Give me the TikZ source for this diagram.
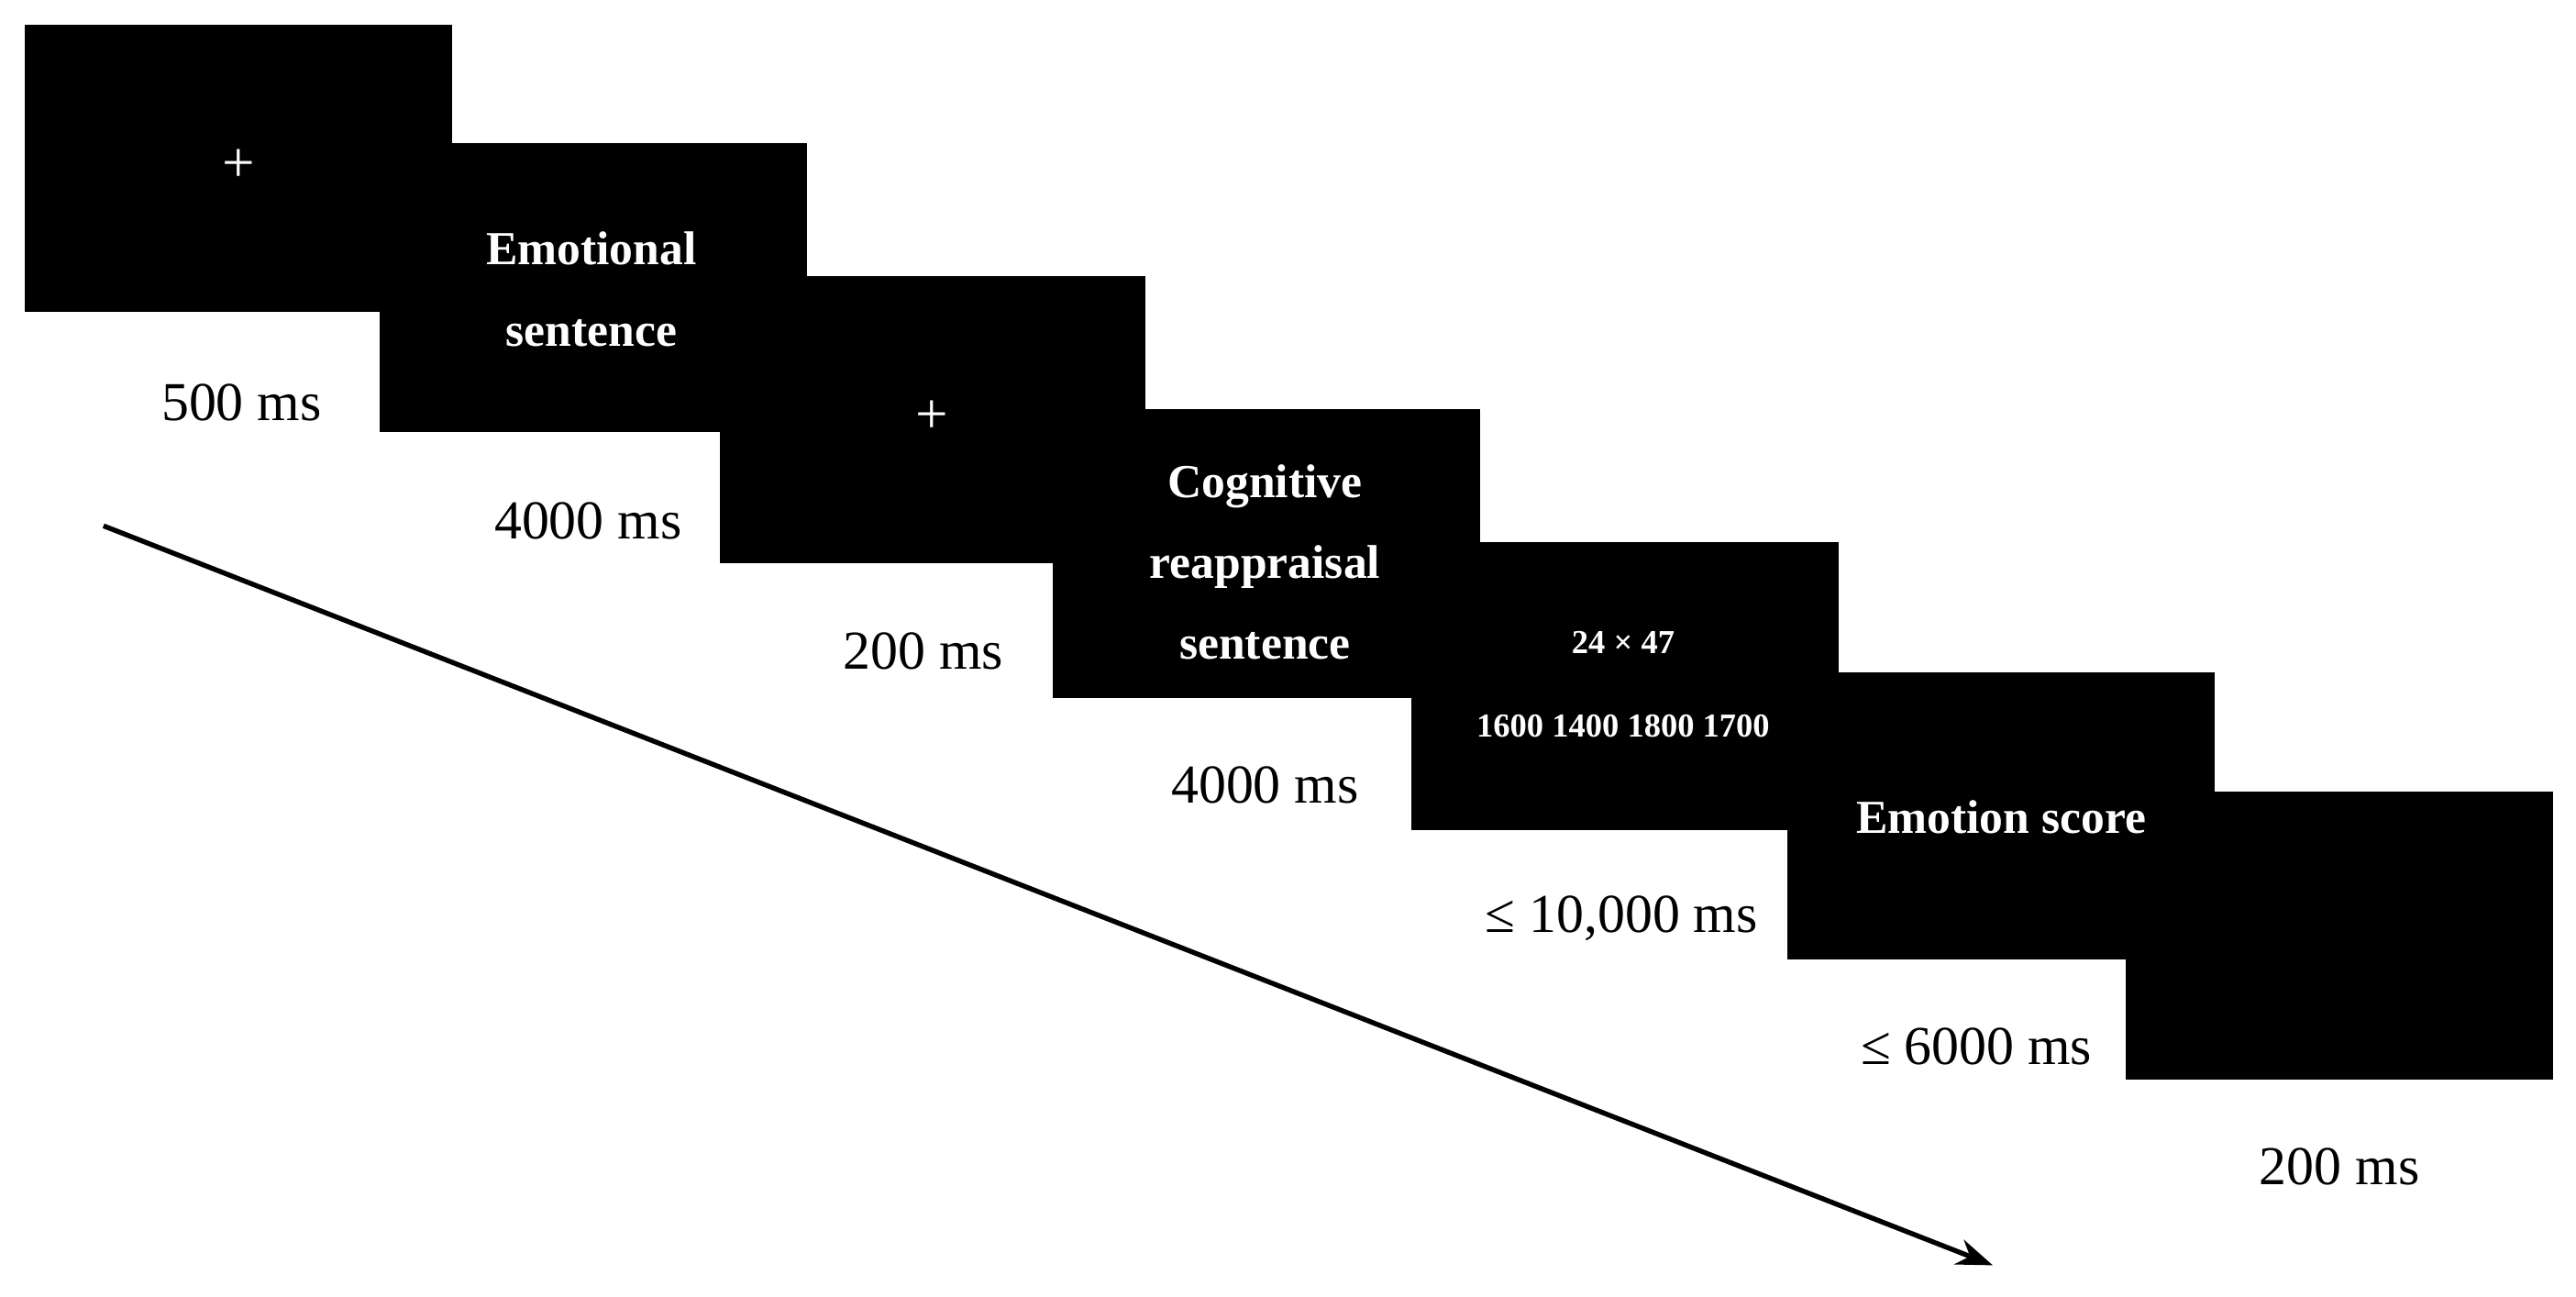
\documentclass[tikz,border=0pt]{standalone}
\usepackage{fontspec}
\setmainfont{Liberation Serif}
\usetikzlibrary{arrows.meta}
\begin{document}
\begin{tikzpicture}[x=1mm,y=-1mm,
  scr/.style={fill=black,draw=none},
  lab/.style={font=\fontsize{95}{100}\selectfont,anchor=center},
  wt/.style={text=white,font=\bfseries\fontsize{82}{140}\selectfont,align=center,anchor=center},
  sm/.style={text=white,font=\bfseries\fontsize{58}{60}\selectfont,anchor=center}]
\useasboundingbox[fill=white] (0,0) rectangle (1568,789.3);
\fill[scr] (15,15) rectangle (275,190);
\fill[scr] (231,87) rectangle (491,263);
\fill[scr] (438,168) rectangle (697,343);
\fill[scr] (641,249) rectangle (901,425);
\fill[scr] (859,330) rectangle (1119,505);
\fill[scr] (1088,409) rectangle (1348,584);
\fill[scr] (1294,482) rectangle (1554,657);
\node[wt,font=\fontsize{100}{100}\selectfont] (p1) at (145,101) {+};
\node[wt] (t2) at (360,176) {Emotional\\sentence};
\node[wt,font=\fontsize{100}{100}\selectfont] (p3) at (567,254) {+};
\node[wt] (t4) at (770,342) {Cognitive\\reappraisal\\sentence};
\node[sm] (t5a) at (988,391) {24 × 47};
\node[sm] (t5b) at (988,442) {1600 1400 1800 1700};
\node[wt] (t6) at (1218,497) {Emotion score};
\node[lab] (l1) at (147,245) {500 ms};
\node[lab] (l2) at (358,317) {4000 ms};
\node[lab] (l3) at (562,396) {200 ms};
\node[lab] (l4) at (770,478) {4000 ms};
\node[lab] (l5) at (987,559) {≤ 10,000 ms};
\node[lab] (l6) at (1203,637) {≤ 6000 ms};
\node[lab] (l7) at (1424,710) {200 ms};
\coordinate (a0) at (63,320);
\coordinate (a1) at (1213,770);
\draw[line width=3mm,-{Stealth[length=22mm,width=16mm]}] (a0) -- (a1);
\end{tikzpicture}
\end{document}
